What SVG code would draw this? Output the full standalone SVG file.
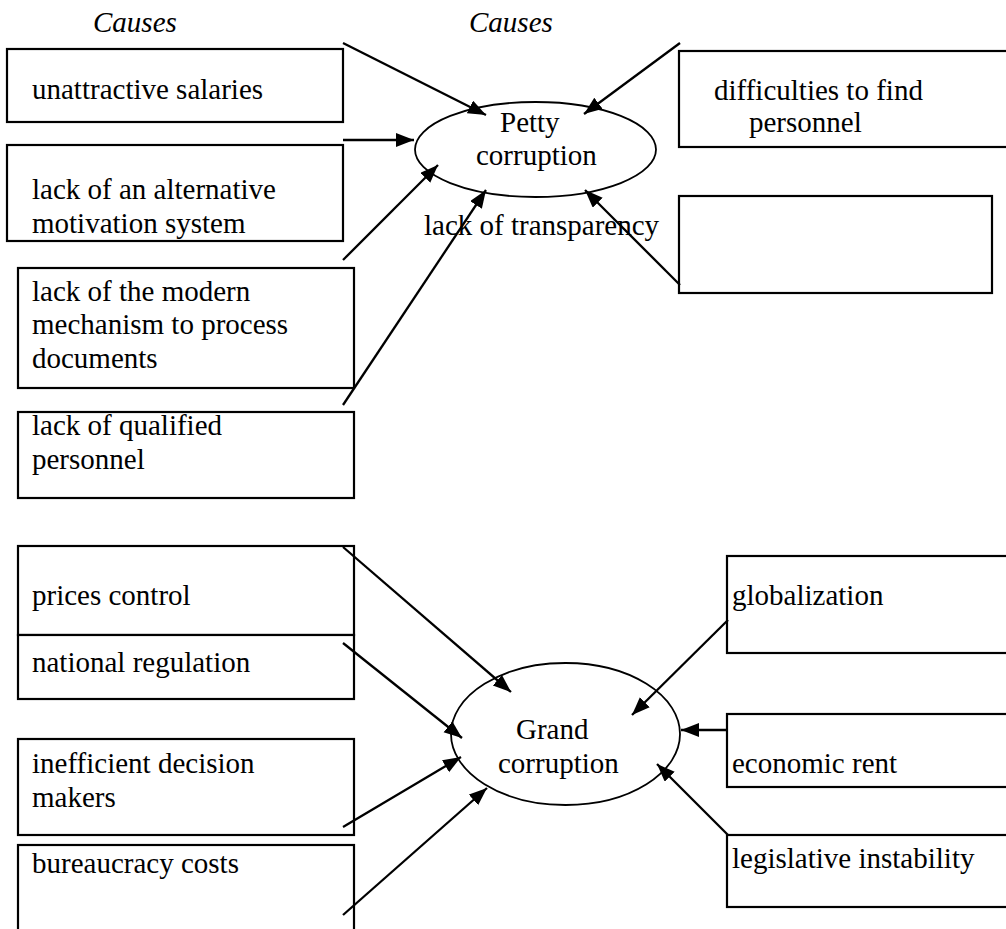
<svg xmlns="http://www.w3.org/2000/svg" width="1006" height="929" viewBox="0 0 1006 929">
<style>
text{font-family:"Liberation Serif","Times New Roman",serif;font-size:29px;fill:#000}
.it{font-style:italic}
.box{fill:#fff;stroke:#000;stroke-width:2.2}
.ell{fill:#fff;stroke:#000;stroke-width:1.8}
.con line{stroke:#000;stroke-width:2.3;marker-end:url(#ah)}
</style>
<defs>
<marker id="ah" markerUnits="userSpaceOnUse" markerWidth="19" markerHeight="15" refX="18" refY="7" orient="auto">
<path d="M0,0 L18,7 L0,14 z" fill="#000"/>
</marker>
</defs>
<rect width="1006" height="929" fill="#fff"/>
<text class="it" x="93" y="32">Causes</text>
<text class="it" x="469" y="32">Causes</text>

<g id="n-unattractive"><rect class="box" x="7" y="49" width="336" height="73"/><text x="32" y="99">unattractive salaries</text></g>
<g id="n-motivation"><rect class="box" x="7" y="145" width="336" height="96"/><text x="32" y="199">lack of an alternative</text><text x="32" y="233">motivation system</text></g>
<g id="n-mechanism"><rect class="box" x="18" y="268" width="336" height="120"/><text x="32" y="301">lack of the modern</text><text x="32" y="334">mechanism to process</text><text x="32" y="368">documents</text></g>
<g id="n-qualified"><rect class="box" x="18" y="412" width="336" height="86"/><text x="32" y="435">lack of qualified</text><text x="32" y="469">personnel</text></g>
<g id="n-difficulties"><rect class="box" x="679" y="51" width="340" height="96"/><text x="714" y="100">difficulties to find</text><text x="749" y="132">personnel</text></g>
<g id="n-empty"><rect class="box" x="679" y="196" width="313" height="97"/></g>

<g id="n-prices"><rect class="box" x="18" y="546" width="336" height="89"/><text x="32" y="605">prices control</text></g>
<g id="n-national"><rect class="box" x="18" y="635" width="336" height="64"/><text x="32" y="672">national regulation</text></g>
<g id="n-inefficient"><rect class="box" x="18" y="739" width="336" height="96"/><text x="32" y="773">inefficient decision</text><text x="32" y="807">makers</text></g>
<g id="n-bureaucracy"><rect class="box" x="18" y="845" width="336" height="100"/><text x="32" y="873">bureaucracy costs</text></g>
<g id="n-globalization"><rect class="box" x="727" y="556" width="290" height="97"/><text x="732" y="605">globalization</text></g>
<g id="n-economic"><rect class="box" x="727" y="714" width="290" height="73"/><text x="732" y="773">economic rent</text></g>
<g id="n-legislative"><rect class="box" x="727" y="835" width="290" height="72"/><text x="732" y="868">legislative instability</text></g>

<g id="n-petty"><ellipse class="ell" cx="535.5" cy="149.5" rx="120.5" ry="47.5"/><text x="500" y="132">Petty</text><text x="476" y="165">corruption</text></g>
<g id="n-grand"><ellipse class="ell" cx="565.5" cy="734" rx="114.5" ry="71"/><text x="516" y="739">Grand</text><text x="498" y="773">corruption</text></g>

<text x="424" y="235">lack of transparency</text>

<g id="connectors" class="con">
<line x1="343" y1="43" x2="486" y2="115"/>
<line x1="343" y1="140" x2="414" y2="140"/>
<line x1="343" y1="260" x2="438" y2="165"/>
<line x1="343" y1="405" x2="486" y2="190"/>
<line x1="680" y1="43" x2="584" y2="114"/>
<line x1="680" y1="285" x2="585" y2="190"/>
<line x1="343" y1="547" x2="511" y2="692"/>
<line x1="343" y1="643" x2="462" y2="738"/>
<line x1="343" y1="827" x2="461" y2="757"/>
<line x1="343" y1="915" x2="487" y2="788"/>
<line x1="728" y1="620" x2="632" y2="715"/>
<line x1="727" y1="730" x2="681" y2="730"/>
<line x1="728" y1="835" x2="657" y2="764"/>
</g>
</svg>
